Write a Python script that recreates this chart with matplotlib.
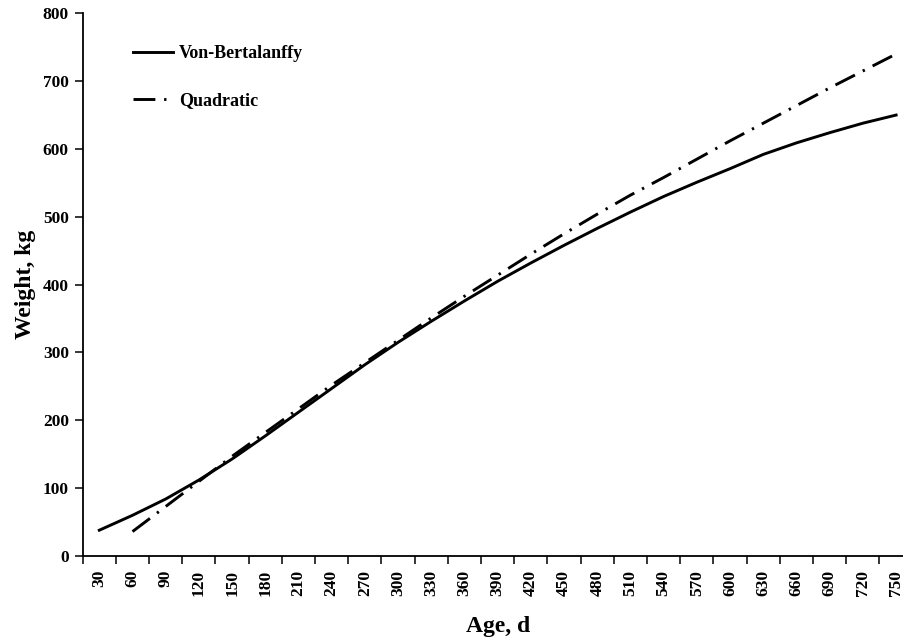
import matplotlib
matplotlib.use("Agg")
import matplotlib.pyplot as plt
import numpy as np

# age categories (d) and fitted weights (kg)
ages = [30, 60, 90, 120, 150, 180, 210, 240, 270, 300, 330, 360, 390,
        420, 450, 480, 510, 540, 570, 600, 630, 660, 690, 720, 750]
von_bertalanffy = [38, 60, 84, 112, 143, 177, 212, 247, 282, 315, 346, 376, 405,
                   432, 458, 483, 507, 530, 551, 571, 592, 609, 624, 638, 650]
# quadratic curve starts at 60 d
quad_ages = ages[1:]
quadratic = [36, 73, 110, 147, 182, 217, 252, 285, 318, 351, 383, 414,
             445, 475, 504, 532, 558, 585, 612, 638, 664, 690, 715, 740]

plt.rcParams['font.family'] = ['Liberation Serif', 'DejaVu Serif']
plt.rcParams['font.weight'] = 'bold'

fig = plt.figure(figsize=(9.04, 6.43), dpi=100)
ax = fig.add_axes([82.7 / 904, 87 / 643, 830 / 904, 542.7 / 643])

pos = {a: i for i, a in enumerate(ages)}
x_vb = [pos[a] for a in ages]
x_q = [pos[a] for a in quad_ages]

ax.plot(x_vb, von_bertalanffy, color='black', lw=2.1, label='Von-Bertalanffy')
ax.plot(x_q, quadratic, color='black', lw=2.1, linestyle=(0, (7.5, 3.0, 0.8, 3.0)),
        label='Quadratic')

ax.set_xlim(-0.5, len(ages) - 0.5)
ax.set_ylim(0, 800)
ax.set_yticks(range(0, 801, 100))

# category labels in the middle, tick marks on the boundaries
ax.set_xticks(range(len(ages)))
ax.set_xticklabels([str(a) for a in ages], rotation=90, fontsize=12.5, fontweight='bold')
ax.set_xticks(np.arange(-0.5, len(ages), 1), minor=True)
ax.tick_params(axis='x', which='major', length=0, pad=10)
ax.tick_params(axis='x', which='minor', length=6, width=1.1, direction='out')
ax.tick_params(axis='y', length=6, width=1.1, direction='out', labelsize=12.5, pad=4)
for lab in ax.get_yticklabels():
    lab.set_fontweight('bold')

for s in ['top', 'right']:
    ax.spines[s].set_visible(False)
for s in ['left', 'bottom']:
    ax.spines[s].set_linewidth(1.3)

ax.set_xlabel('Age, d', fontsize=17, fontweight='bold', labelpad=14)
ax.set_ylabel('Weight, kg', fontsize=17, fontweight='bold', labelpad=5)

leg = ax.legend(loc='upper left', bbox_to_anchor=(117 / 904, 1 - 29 / 643),
                bbox_transform=fig.transFigure, frameon=False, fontsize=13,
                handlelength=2.2, handletextpad=0.35, labelspacing=1.65)
for t in leg.get_texts():
    t.set_fontweight('bold')

fig.savefig('out.png', dpi=100)
